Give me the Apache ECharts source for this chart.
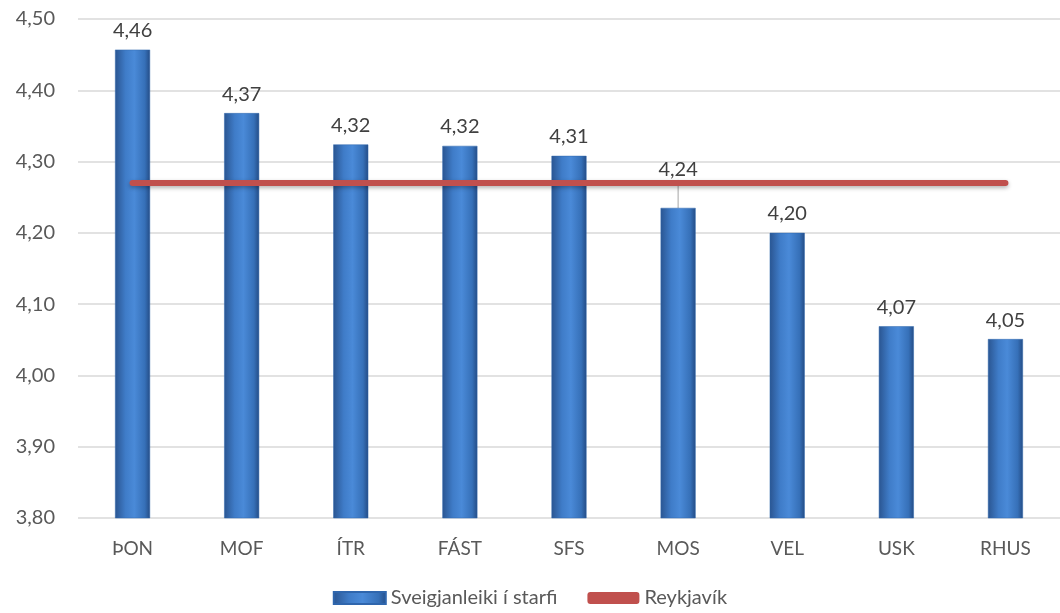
<!DOCTYPE html>
<html><head><meta charset="utf-8">
<script src="https://cdn.jsdelivr.net/npm/echarts@6/dist/echarts.min.js"></script>
<style>html,body{margin:0;padding:0;background:#fff}#c{width:1060px;height:613px}</style>
</head><body><div id="c"></div>
<script>
var categories = ['ÞON','MOF','ÍTR','FÁST','SFS','MOS','VEL','USK','RHUS'];
var barValues = [4.457, 4.368, 4.324, 4.322, 4.308, 4.235, 4.200, 4.069, 4.051];
var lineValues = [4.27, 4.27, 4.27, 4.27, 4.27, 4.27, 4.27, 4.27, 4.27];
var barName = 'Sveigjanleiki í starfi';
var lineName = 'Reykjavík';

var fontFam = 'Lato, "Open Sans", sans-serif';
var fmt = function(v){ return v.toFixed(2).replace('.', ','); };
var movedIndex = categories.indexOf('MOS');
var barData = barValues.map(function(v, i){
  return i === movedIndex ? {value: v, labelLine: {show: true}} : {value: v};
});
var chart = echarts.init(document.getElementById('c'));
chart.setOption({
  animation: false,
  textStyle: {fontFamily: fontFam},
  grid: {left: 78, right: -4, top: 19, bottom: 95},
  legend: {
    bottom: 0, left: 'center', itemGap: 30, itemWidth: 52, itemHeight: 12,
    textStyle: {fontSize: 20, color: '#595959', fontFamily: fontFam},
    data: [
      {name: barName, icon: 'rect'},
      {name: lineName, icon: 'roundRect', itemStyle: {color: '#c0504d'}}
    ]
  },
  xAxis: {
    type: 'category', data: categories,
    axisLine: {show: false}, axisTick: {show: false},
    axisLabel: {fontSize: 19, color: '#595959', margin: 21}
  },
  yAxis: {
    type: 'value', min: 3.8, max: 4.5, interval: 0.1,
    axisLabel: {fontSize: 20, color: '#595959', margin: 23, formatter: function(v){ return fmt(v); }},
    splitLine: {lineStyle: {color: '#d9d9d9', width: 1.5}},
    axisLine: {show: false}, axisTick: {show: false}
  },
  series: [
    {
      name: barName, type: 'bar', data: barData, barWidth: 35,
      itemStyle: {
        color: new echarts.graphic.LinearGradient(0, 0, 1, 0, [
          {offset: 0, color: '#2a5591'},
          {offset: 0.3, color: '#3f7cc8'},
          {offset: 0.55, color: '#4a8ad8'},
          {offset: 0.85, color: '#3670b8'},
          {offset: 1, color: '#244c85'}
        ]),
        borderColor: '#2f66ad', borderWidth: 0.5
      },
      label: {
        show: true, position: 'top', distance: 9, fontSize: 20, color: '#404040',
        formatter: function(p){ return fmt(p.value); }
      },
      labelLayout: function(p){ return p.dataIndex === movedIndex ? {dy: -19} : {}; },
      labelLine: {show: false, lineStyle: {color: '#a6a6a6', width: 1}}
    },
    {
      name: lineName, type: 'line', data: lineValues, symbol: 'none',
      lineStyle: {color: '#c0504d', width: 6, cap: 'round',
        shadowColor: 'rgba(0,0,0,0.3)', shadowBlur: 4, shadowOffsetY: 2},
      itemStyle: {color: '#c0504d'}, z: 3
    }
  ]
});
</script></body></html>
